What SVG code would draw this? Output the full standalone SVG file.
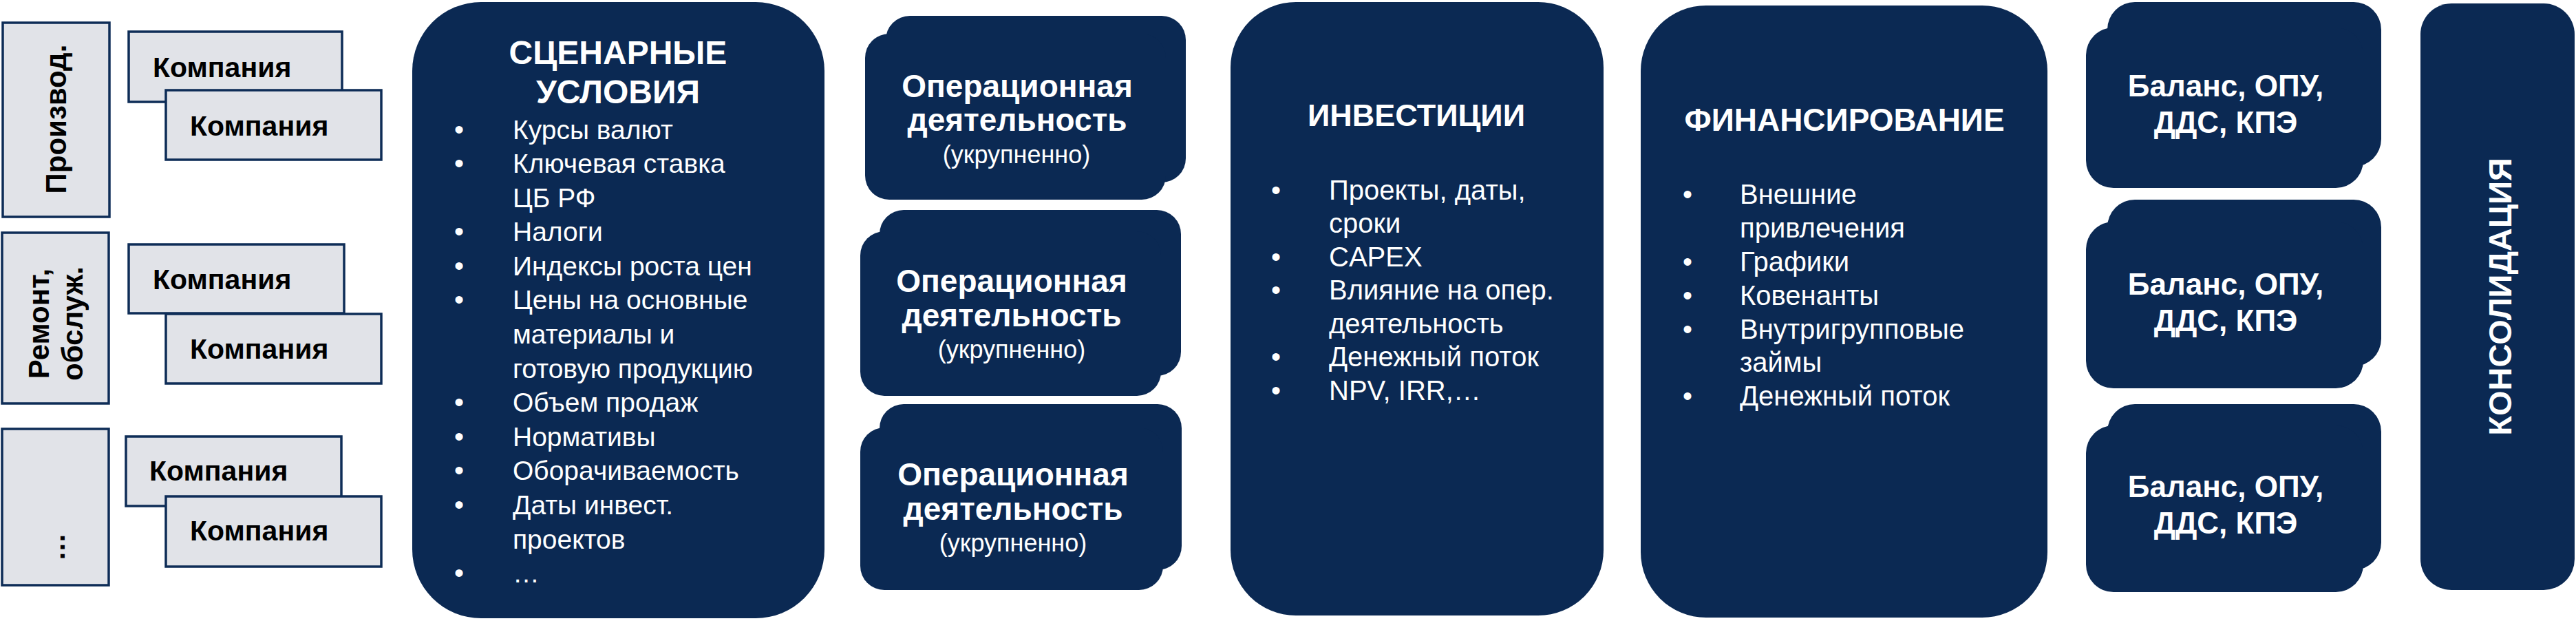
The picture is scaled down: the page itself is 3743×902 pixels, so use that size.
<svg xmlns="http://www.w3.org/2000/svg" width="3743" height="902" viewBox="0 0 3743 902">
<defs>
<style>
.lbox{fill:#E1E3E8;stroke:#0E2D57;stroke-width:3.5}
.navy{fill:#0B2953}
.kt{font-family:"Liberation Sans",Arial,sans-serif;font-weight:bold;font-size:41px;fill:#000}
.gt{font-family:"Liberation Sans",Arial,sans-serif;font-weight:bold;font-size:42px;fill:#000;text-anchor:middle}
.wt{font-family:"Liberation Sans",Arial,sans-serif;fill:#fff}
.ttl{font-weight:bold;text-anchor:middle}
.bul{font-size:40px}
.item{font-size:39px}
.mid{text-anchor:middle}
</style>
</defs>
<rect width="3743" height="902" fill="#fff"/>

<g id="group-proizvod">
<rect class="lbox" x="4" y="33" width="155" height="282"/>
<text class="gt" transform="translate(96,173) rotate(-90)">Производ.</text>
</g>
<g id="company-1">
<rect class="lbox" x="187" y="46" width="310" height="102"/>
<text class="kt" x="222" y="112">Компания</text>
</g>
<g id="company-2">
<rect class="lbox" x="241" y="131" width="313" height="101"/>
<text class="kt" x="276" y="197">Компания</text>
</g>

<g id="group-remont">
<rect class="lbox" x="3" y="338" width="155" height="248"/>
<text class="gt" transform="translate(71,470) rotate(-90)">Ремонт,</text>
<text class="gt" transform="translate(120,470) rotate(-90)">обслуж.</text>
</g>
<g id="company-3">
<rect class="lbox" x="187" y="355" width="313" height="100"/>
<text class="kt" x="222" y="420">Компания</text>
</g>
<g id="company-4">
<rect class="lbox" x="241" y="456" width="313" height="101"/>
<text class="kt" x="276" y="521">Компания</text>
</g>

<g id="group-other">
<rect class="lbox" x="3" y="623" width="155" height="227"/>
<text class="kt" transform="translate(94,815) rotate(-90)">…</text>
</g>
<g id="company-5">
<rect class="lbox" x="183" y="634" width="313" height="101"/>
<text class="kt" x="217" y="698">Компания</text>
</g>
<g id="company-6">
<rect class="lbox" x="241" y="721" width="313" height="102"/>
<text class="kt" x="276" y="785">Компания</text>
</g>

<g id="scenario">
<rect class="navy" x="599" y="3" width="599" height="895" rx="100"/>
<text class="wt ttl" x="898" y="93" font-size="48">СЦЕНАРНЫЕ</text>
<text class="wt ttl" x="898" y="150" font-size="48">УСЛОВИЯ</text>
<g class="wt bul" text-anchor="middle">
<text x="667" y="202">•</text>
<text x="667" y="251">•</text>
<text x="667" y="350">•</text>
<text x="667" y="400">•</text>
<text x="667" y="449">•</text>
<text x="667" y="598">•</text>
<text x="667" y="648">•</text>
<text x="667" y="697">•</text>
<text x="667" y="747">•</text>
<text x="667" y="846">•</text>
</g>
<g class="wt item">
<text x="745" y="202">Курсы валют</text>
<text x="745" y="251">Ключевая ставка</text>
<text x="745" y="301">ЦБ РФ</text>
<text x="745" y="350">Налоги</text>
<text x="745" y="400">Индексы роста цен</text>
<text x="745" y="449">Цены на основные</text>
<text x="745" y="499">материалы и</text>
<text x="745" y="549">готовую продукцию</text>
<text x="745" y="598">Объем продаж</text>
<text x="745" y="648">Нормативы</text>
<text x="745" y="697">Оборачиваемость</text>
<text x="745" y="747">Даты инвест.</text>
<text x="745" y="797">проектов</text>
<text x="745" y="846">…</text>
</g>
</g>

<g id="operations-1">
<rect class="navy" x="1287" y="23" width="436" height="242" rx="35"/>
<rect class="navy" x="1257" y="49" width="437" height="241" rx="35"/>
<text class="wt ttl" x="1478" y="141" font-size="46">Операционная</text>
<text class="wt ttl" x="1478" y="190" font-size="46">деятельность</text>
<text class="wt mid" x="1477" y="237" font-size="36">(укрупненно)</text>
</g>
<g id="operations-2">
<rect class="navy" x="1278" y="305" width="438" height="241" rx="35"/>
<rect class="navy" x="1250" y="336" width="437" height="239" rx="35"/>
<text class="wt ttl" x="1470" y="424" font-size="46">Операционная</text>
<text class="wt ttl" x="1470" y="474" font-size="46">деятельность</text>
<text class="wt mid" x="1470" y="520" font-size="36">(укрупненно)</text>
</g>
<g id="operations-3">
<rect class="navy" x="1278" y="587" width="439" height="241" rx="35"/>
<rect class="navy" x="1250" y="621" width="440" height="236" rx="35"/>
<text class="wt ttl" x="1472" y="705" font-size="46">Операционная</text>
<text class="wt ttl" x="1472" y="755" font-size="46">деятельность</text>
<text class="wt mid" x="1472" y="801" font-size="36">(укрупненно)</text>
</g>

<g id="investments">
<rect class="navy" x="1788" y="3" width="542" height="891" rx="95"/>
<text class="wt ttl" x="2058" y="183" font-size="45">ИНВЕСТИЦИИ</text>
<g class="wt bul" text-anchor="middle">
<text x="1854" y="290">•</text>
<text x="1854" y="387">•</text>
<text x="1854" y="435">•</text>
<text x="1854" y="532">•</text>
<text x="1854" y="581">•</text>
</g>
<g class="wt" font-size="40">
<text x="1931" y="290">Проекты, даты,</text>
<text x="1931" y="338">сроки</text>
<text x="1931" y="387">CAPEX</text>
<text x="1931" y="435">Влияние на опер.</text>
<text x="1931" y="484">деятельность</text>
<text x="1931" y="532">Денежный поток</text>
<text x="1931" y="581">NPV, IRR,…</text>
</g>
</g>

<g id="financing">
<rect class="navy" x="2384" y="8" width="591" height="889" rx="95"/>
<text class="wt ttl" x="2680" y="190" font-size="46">ФИНАНСИРОВАНИЕ</text>
<g class="wt bul" text-anchor="middle">
<text x="2452" y="296">•</text>
<text x="2452" y="394">•</text>
<text x="2452" y="443">•</text>
<text x="2452" y="492">•</text>
<text x="2452" y="589">•</text>
</g>
<g class="wt" font-size="40">
<text x="2528" y="296">Внешние</text>
<text x="2528" y="345">привлечения</text>
<text x="2528" y="394">Графики</text>
<text x="2528" y="443">Ковенанты</text>
<text x="2528" y="492">Внутригрупповые</text>
<text x="2528" y="540">займы</text>
<text x="2528" y="589">Денежный поток</text>
</g>
</g>

<g id="statements-1">
<rect class="navy" x="3062" y="3" width="398" height="239" rx="40"/>
<rect class="navy" x="3031" y="40" width="403" height="233" rx="40"/>
<text class="wt ttl" x="3234" y="140" font-size="44">Баланс, ОПУ,</text>
<text class="wt ttl" x="3234" y="193" font-size="44">ДДС, КПЭ</text>
</g>
<g id="statements-2">
<rect class="navy" x="3062" y="290" width="398" height="242" rx="40"/>
<rect class="navy" x="3031" y="322" width="403" height="242" rx="40"/>
<text class="wt ttl" x="3234" y="428" font-size="44">Баланс, ОПУ,</text>
<text class="wt ttl" x="3234" y="481" font-size="44">ДДС, КПЭ</text>
</g>
<g id="statements-3">
<rect class="navy" x="3062" y="587" width="398" height="241" rx="40"/>
<rect class="navy" x="3031" y="618" width="403" height="242" rx="40"/>
<text class="wt ttl" x="3234" y="722" font-size="44">Баланс, ОПУ,</text>
<text class="wt ttl" x="3234" y="775" font-size="44">ДДС, КПЭ</text>
</g>

<g id="consolidation">
<rect class="navy" x="3517" y="5" width="224" height="852" rx="45"/>
<text class="wt ttl" font-size="47" transform="translate(3649,431) rotate(-90)">КОНСОЛИДАЦИЯ</text>
</g>

<g id="connectors"/>
</svg>
